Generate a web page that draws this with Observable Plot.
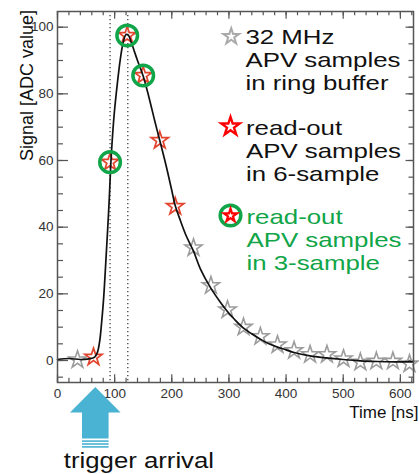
<!DOCTYPE html>
<html><head><meta charset="utf-8">
<script src="https://cdn.jsdelivr.net/npm/d3@7"></script>
<script src="https://cdn.jsdelivr.net/npm/@observablehq/plot@0.6"></script>
<style>body{margin:0;background:#fff}</style>
</head><body><div id="chart"></div>
<script>
// ---- data ----
const curveTime   = [0, 20, 40, 55, 65, 70, 74, 77, 80, 82, 85, 88, 91, 93, 95, 99, 105, 110, 115, 120, 124, 128, 133, 140, 150, 160, 170, 179, 190, 200, 206, 215, 225, 238, 250, 268, 285, 297, 310, 325, 340, 355, 370, 385, 400, 414, 442, 470, 500, 530, 560, 590, 623];
const curveSignal = [0.3, 0.6, 0.3, 0.5, 1, 2.5, 6, 11, 17, 22, 31, 40, 50, 58, 64, 73.5, 83.5, 90.5, 95.5, 97.8, 97.6, 96, 93.5, 90, 85.3, 79, 72, 66, 58.5, 51, 46.5, 42, 37.5, 32.8, 27.5, 21.8, 17.5, 14.8, 12.3, 9.8, 8, 6.4, 5, 4, 3.2, 2.4, 1.4, 0.8, 0.3, -0.1, -0.3, -0.4, -0.4];

const ringTime   = [35, 238, 268.5, 297.5, 325.5, 355, 385, 414, 442, 471.5, 500.5, 530, 558, 587, 616];
const ringSignal = [0.2, 33.8, 22.5, 15.2, 10, 7.2, 4.7, 3, 1.8, 1.8, 0.5, -0.5, -0.2, -0.2, -1];

const sixTime   = [63, 92, 122, 150, 179, 206];
const sixSignal = [1, 59.5, 97.5, 85.5, 66, 46.2];

const threeTime   = [92, 122, 150];
const threeSignal = [59.5, 97.5, 85.5];

const timingLines = [92, 123];
const triggerTime = 67;

const xMajor = [0, 100, 200, 300, 400, 500, 600];
const xMinor = d3.range(0, 621, 20);
const yMajor = [0, 20, 40, 60, 80, 100];
const yMinor = d3.range(-5, 101, 5);

const legendTexts = ["32 MHz\nAPV samples\nin ring buffer", "read-out\nAPV samples\nin 6-sample", "read-out\nAPV samples\nin 3-sample"];

// ---- layout ----
const W = 419, H = 474, mL = 57, mR = 6, mT = 11, mB = 92;
const pw = W - mL - mR, ph = H - mT - mB;
const toRows = (xs, ys) => xs.map((x, i) => ({x, y: ys[i]}));

const frameC = "#555";
const green = "#10a548";

const plot = Plot.plot({
  width: W, height: H,
  marginLeft: mL, marginRight: mR, marginTop: mT, marginBottom: mB,
  style: {fontFamily: "Liberation Sans, Arial, sans-serif", fontSize: "13.5px", color: "#333", background: "#fff"},
  x: {domain: [0, 623]},
  y: {domain: [-6.6, 104.7]},
  marks: [
    // inward ticks
    Plot.tickY(yMajor, {insetRight: pw - 11, stroke: frameC, strokeWidth: 1.2}),
    Plot.tickY(yMinor, {insetRight: pw - 6, stroke: frameC, strokeWidth: 1.2}),
    Plot.tickY(yMajor, {insetLeft: pw - 7.5, stroke: frameC, strokeWidth: 1.2}),
    Plot.tickY(yMinor, {insetLeft: pw - 4.5, stroke: frameC, strokeWidth: 1.2}),
    Plot.tickX(xMajor, {insetTop: ph - 7.7, stroke: frameC, strokeWidth: 1.2}),
    Plot.tickX(xMinor, {insetTop: ph - 4.3, stroke: frameC, strokeWidth: 1.2}),
    Plot.tickX(xMajor, {insetBottom: ph - 7.7, stroke: frameC, strokeWidth: 1.2}),
    Plot.tickX(xMinor, {insetBottom: ph - 4.3, stroke: frameC, strokeWidth: 1.2}),
    Plot.axisX({ticks: xMajor, tickSize: 0, tickPadding: 6, label: null}),
    Plot.axisY({ticks: yMajor, tickSize: 0, tickPadding: 4, label: null}),
    // timing lines
    Plot.ruleX(timingLines, {stroke: "#444", strokeWidth: 1.3, strokeDasharray: "1.3,2.7", insetTop: 4}),
    // samples
    Plot.dot(toRows(ringTime, ringSignal), {x: "x", y: "y", symbol: "star", r: 5.4, stroke: "#9c9c9c", strokeWidth: 1.6, fill: "none"}),
    Plot.dot(toRows(sixTime, sixSignal), {x: "x", y: "y", symbol: "star", r: 5.4, stroke: "#e2452e", strokeWidth: 1.7, fill: "white", fillOpacity: 0.6}),
    // pulse shape
    Plot.line(toRows(curveTime, curveSignal), {x: "x", y: "y", stroke: "#111", strokeWidth: 1.7, curve: "catmull-rom"}),
    Plot.dot(toRows(threeTime, threeSignal), {x: "x", y: "y", r: 10.3, stroke: green, strokeWidth: 3.5, fill: "none"}),
    Plot.frame({stroke: frameC, strokeWidth: 1.5}),
    // axis titles
    Plot.text(["Signal [ADC value]"], {frameAnchor: "top-left", rotate: -90, dx: -37, dy: 74, fontSize: 18, textAnchor: "middle", fill: "#111"}),
    Plot.text(["Time [ns]"], {frameAnchor: "bottom-right", dx: 5, dy: 35.3, lineAnchor: "bottom", textAnchor: "end", fontSize: 17, fill: "#111"}),
    // legend
    Plot.dot([0], {frameAnchor: "top-left", dx: 173.7, dy: 25, symbol: "star", r: 5, stroke: "#aaa", strokeWidth: 2, fill: "white"}),
    Plot.dot([0], {frameAnchor: "top-left", dx: 173, dy: 115, symbol: "star", r: 5.8, stroke: "#f00", strokeWidth: 2.4, fill: "white"}),
    Plot.dot([0], {frameAnchor: "top-left", dx: 173, dy: 204, r: 10.3, stroke: green, strokeWidth: 3.5, fill: "none"}),
    Plot.dot([0], {frameAnchor: "top-left", dx: 173, dy: 204, symbol: "star", r: 4.1, stroke: "#f00", strokeWidth: 2.2, fill: "white"}),
    Plot.text([legendTexts[0]], {frameAnchor: "top-left", dx: 188, dy: 16, lineAnchor: "top", lineHeight: 1.095, fontSize: 21, fill: "#111", textAnchor: "start"}),
    Plot.text([legendTexts[1]], {frameAnchor: "top-left", dx: 188.5, dy: 106.7, lineAnchor: "top", lineHeight: 1.095, fontSize: 21, fill: "#111", textAnchor: "start"}),
    Plot.text([legendTexts[2]], {frameAnchor: "top-left", dx: 189, dy: 196, lineAnchor: "top", lineHeight: 1.095, fontSize: 21, fill: green, textAnchor: "start"}),
    Plot.text(["trigger arrival"], {frameAnchor: "bottom-left", dx: 6.3, dy: 85.3, lineAnchor: "bottom", textAnchor: "start", fontSize: 23, fill: "#111"})
  ]
});

const svg = d3.select(plot);
// widen legend text (the original lettering is horizontally stretched)
svg.selectAll("text").each(function () {
  const t = this.textContent;
  const el = d3.select(this);
  const tr = el.attr("transform") || "";
  if (t.includes("APV")) el.attr("transform", tr + " scale(1.23,1)");
  else if (t === "trigger arrival") el.attr("transform", tr + " scale(1.12,1)");
});

// trigger arrow, positioned with the x scale
const cx = plot.scale("x").apply(triggerTime);
const blue = "#4ab2d3";
const gA = svg.append("g").attr("fill", blue);
gA.append("path").attr("d",
  `M${cx},387 L${cx + 25.3},412.5 L${cx + 13.3},412.5 L${cx + 13.3},438.6 L${cx - 13.3},438.6 L${cx - 13.3},412.5 L${cx - 25.3},412.5 Z`);
for (const y of [440.3, 443.2, 446.1]) {
  gA.append("rect").attr("x", cx - 13.3).attr("y", y).attr("width", 26.6).attr("height", 1.6);
}

document.getElementById("chart").appendChild(plot);
</script>
</body></html>
